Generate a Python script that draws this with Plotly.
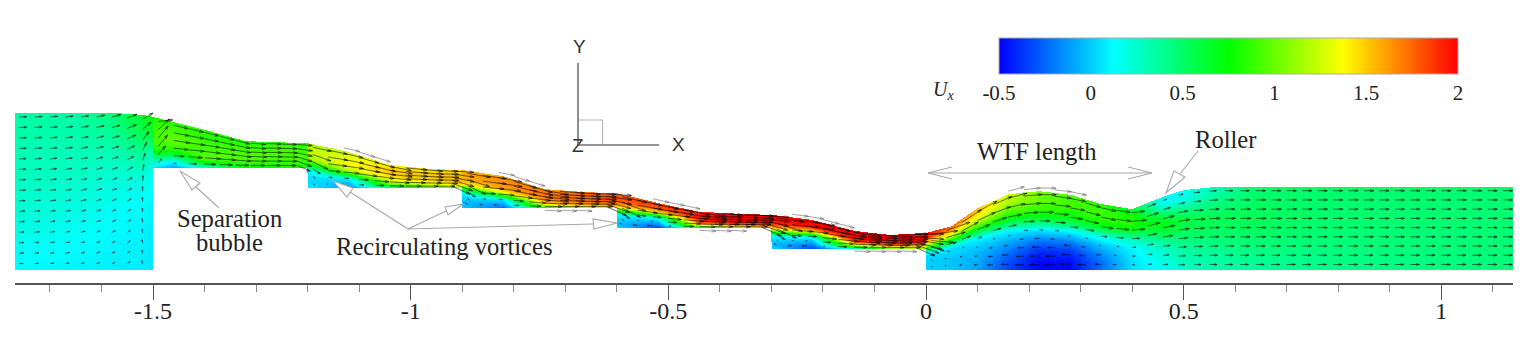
import numpy as np
import plotly.graph_objects as go

# --- values -----------------------------------------------------------------
E = 0.0005
stations = [-1.768, -1.65, -1.58, -1.52, -1.5 - E, -1.5 + E, -1.46, -1.4, -1.32, -1.2 - E,
            -1.2 + E, -1.12, -1.04, -0.96, -0.9 - E, -0.9 + E, -0.82, -0.74, -0.66, -0.6 - E,
            -0.6 + E, -0.52, -0.44, -0.36, -0.3 - E, -0.3 + E, -0.22, -0.14, -0.07, 0 - E,
            0 + E, 0.05, 0.1, 0.16, 0.22, 0.28, 0.34, 0.4, 0.46, 0.5, 0.56, 0.64, 0.8, 1.139]
surface = [.305, .305, .305, .301, .297, .297, .287, .272, .250, .246,
           .246, .229, .204, .196, .194, .194, .182, .157, .151, .149,
           .149, .130, .113, .109, .107, .107, .097, .076, .068, .072,
           .072, .085, .120, .147, .153, .146, .128, .118, .142, .155, .161, .161, .161, .161]
bed = [0, 0, 0, 0, 0, .198, .198, .198, .198, .198,
       .159, .159, .159, .159, .159, .120, .120, .120, .120, .120,
       .081, .081, .081, .081, .081, .041, .041, .041, .041, .041,
       0, 0, 0, 0, 0, 0, 0, 0, 0, 0, 0, 0, 0, 0]
# Ux at nine levels from the bed (first) to the free surface (last), one row per station
ux = [
    [.12, .15, .19, .23, .26, .29, .31, .33, .34],
    [.10, .12, .15, .19, .23, .27, .30, .33, .35],
    [.09, .10, .12, .15, .19, .24, .31, .38, .45],
    [.08, .09, .10, .12, .16, .24, .38, .55, .66],
    [.07, .07, .08, .09, .11, .16, .28, .62, .78],
    [.05, .30, .60, .85, .90, .90, .90, .85, .80],
    [-.10, .10, .50, .80, .95, 1.0, .95, .90, .85],
    [.20, .70, .95, .95, .90, .90, .85, .85, .85],
    [.70, .85, .90, .95, .95, .92, .90, .85, .85],
    [.75, .85, .90, .90, .92, .90, .90, .90, .85],
    [.10, .05, .05, .10, .60, 1.1, 1.2, 1.2, 1.15],
    [-.15, -.05, .10, .80, 1.25, 1.35, 1.35, 1.3, 1.25],
    [.30, .90, 1.2, 1.35, 1.45, 1.5, 1.5, 1.45, 1.4],
    [.90, 1.2, 1.35, 1.45, 1.5, 1.5, 1.5, 1.45, 1.4],
    [1.1, 1.35, 1.5, 1.55, 1.55, 1.55, 1.5, 1.5, 1.45],
    [.0, -.05, .0, .10, .70, 1.4, 1.55, 1.6, 1.55],
    [-.25, -.10, .05, .70, 1.4, 1.6, 1.65, 1.65, 1.6],
    [.60, 1.2, 1.5, 1.6, 1.7, 1.7, 1.7, 1.7, 1.6],
    [1.1, 1.45, 1.6, 1.7, 1.75, 1.75, 1.75, 1.75, 1.7],
    [1.3, 1.55, 1.7, 1.75, 1.8, 1.8, 1.8, 1.75, 1.7],
    [.05, -.05, .02, .10, .80, 1.5, 1.75, 1.8, 1.75],
    [-.35, -.20, -.05, .10, .70, 1.4, 1.75, 1.85, 1.8],
    [.30, 1.1, 1.6, 1.8, 1.9, 1.95, 1.95, 1.9, 1.85],
    [1.1, 1.5, 1.75, 1.9, 2.0, 2.0, 2.0, 2.0, 1.95],
    [1.3, 1.6, 1.8, 1.95, 2.0, 2.0, 2.0, 2.0, 2.0],
    [.05, -.05, .02, .15, .90, 1.6, 1.9, 2.0, 2.0],
    [-.35, -.20, -.05, .10, .80, 1.5, 1.95, 2.0, 1.95],
    [.20, .90, 1.4, 1.75, 1.95, 2.0, 2.0, 2.0, 2.0],
    [1.0, 1.4, 1.7, 1.9, 2.0, 2.0, 2.0, 2.0, 2.0],
    [1.1, 1.4, 1.65, 1.85, 2.0, 2.0, 2.0, 2.0, 2.0],
    [.02, .02, .02, .04, .30, 1.0, 1.5, 1.9, 2.0],
    [.0, -.02, -.02, .02, .05, .50, 1.1, 1.5, 1.8],
    [-.10, -.08, -.05, .0, .10, .60, 1.1, 1.4, 1.55],
    [-.34, -.30, -.20, -.08, .08, .55, .90, 1.15, 1.25],
    [-.50, -.48, -.38, -.20, .05, .55, .85, 1.0, 1.05],
    [-.50, -.46, -.36, -.18, .08, .55, .80, .90, .95],
    [-.24, -.22, -.14, -.02, .18, .60, .85, .90, .85],
    [.05, .05, .08, .12, .30, .65, .85, .80, .60],
    [.15, .20, .25, .35, .60, .72, .55, .20, .08],
    [.25, .30, .35, .45, .55, .60, .42, .20, .15],
    [.33, .35, .40, .47, .52, .55, .48, .38, .30],
    [.38, .40, .44, .48, .52, .53, .52, .50, .47],
    [.42, .43, .44, .46, .47, .48, .48, .48, .48],
    [.45, .45, .46, .46, .47, .47, .47, .47, .47],
]
level_fractions = [0, .125, .25, .375, .5, .625, .75, .875, 1]
# upward turn of the flow towards the first step (degrees)
lift_x = [-1.768, -1.65, -1.58, -1.52, -1.5]
lift_deg = [3, 14, 26, 55, 60]
# stretches where arrows stick out of the field, above the surface and below the bed
over_ranges = [(-1.14, -1.04), (-0.84, -0.74), (-0.54, -0.44), (-0.26, -0.14), (0.14, 0.3)]
under_ranges = [(-0.74, -0.66), (-0.44, -0.36), (-0.14, -0.04)]

axis_ticks = [-1.5, -1, -0.5, 0, 0.5, 1]
axis_labels = ["-1.5", "-1", "-0.5", "0", "0.5", "1"]
bar_ticks = [-0.5, 0, 0.5, 1, 1.5, 2]
bar_labels = ["-0.5", "0", "0.5", "1", "1.5", "2"]
colors = [[0, "#0000ff"], [.25, "#00ffff"], [.5, "#00ff00"], [.75, "#ffff00"], [1, "#ff0000"]]

# --- page geometry -----------------------------------------------------------
W, H = 1537, 354
SCALE = 515.3
X0_PX, Y0_PX = 926, 270
AX_PX = 283
xr = [(15 - X0_PX) / SCALE, (1513 - X0_PX) / SCALE]
yr = [(Y0_PX - AX_PX) / SCALE, Y0_PX / SCALE]
def dx(p): return (p - X0_PX) / SCALE
def dy(p): return (Y0_PX - p) / SCALE

st = np.array(stations); sf = np.array(surface); bd = np.array(bed); U = np.array(ux)
fr = np.array(level_fractions)

# the field table is shown on a raster of one screen pixel per cell
gx = np.arange(dx(15.5), dx(1513), 1 / SCALE)
gy = np.arange(dy(269.5), dy(112), 1 / SCALE)
field = np.full((len(gy), len(gx)), np.nan, dtype="f4")
for c, cx in enumerate(gx):
    i = min(max(np.searchsorted(st, cx), 1), len(st) - 1)
    t = (cx - st[i - 1]) / (st[i] - st[i - 1])
    b = (1 - t) * bd[i - 1] + t * bd[i]
    s = (1 - t) * sf[i - 1] + t * sf[i]
    inside = (gy >= b) & (gy <= s)
    f = (gy[inside] - b) / (s - b)
    field[inside, c] = (1 - t) * np.interp(f, fr, U[i - 1]) + t * np.interp(f, fr, U[i])

fig = go.Figure()
fig.add_trace(go.Heatmap(
    x=gx, y=gy, z=field, colorscale=colors, zmin=-0.5, zmax=2, hoverinfo="skip",
    colorbar=dict(
        orientation="h", xref="container", yref="container",
        x=999 / W, xanchor="left", y=1 - 38 / H, yanchor="top",
        lenmode="pixels", len=459, thickness=36, thicknessmode="pixels",
        xpad=0, ypad=0, outlinecolor="#aaaaaa", outlinewidth=1,
        tickmode="array", tickvals=bar_ticks, ticktext=bar_labels, ticks="",
        tickfont=dict(family="Liberation Serif", size=21, color="#222222"))))

# velocity arrows built from the table above
def arrow(store, cx, y, u, ang):
    L = 0.03 * abs(u) ** 0.8 + 0.002
    sgn = 1 if u >= 0 else -1
    ux_, uy_ = sgn * np.cos(ang), sgn * np.sin(ang)
    x1, y1 = cx + L * ux_, y + L * uy_
    h = min(0.008, L * 0.35)
    store[0].extend([cx, x1, None, x1 - h * ux_ + 0.3 * h * uy_, x1, x1 - h * ux_ - 0.3 * h * uy_, None])
    store[1].extend([y, y1, None, y1 - h * uy_ - 0.3 * h * ux_, y1, y1 - h * uy_ + 0.3 * h * ux_, None])

dark, gray = ([], []), ([], [])
for cx in np.arange(-1.76, 1.13, 0.03):
    s = np.interp(cx, st, sf)
    b = np.interp(cx, st, bd)
    depth_px = (s - b) * SCALE
    n = int(np.clip(round(depth_px / 9), 6, 15))
    i = min(max(np.searchsorted(st, cx), 1), len(st) - 1)
    t = (cx - st[i - 1]) / (st[i] - st[i - 1])
    for k in range(n):
        f = (k + 0.6) / n
        y = b + (s - b) * f
        u = (1 - t) * np.interp(f, fr, U[i - 1]) + t * np.interp(f, fr, U[i])
        level = bd + (sf - bd) * f
        slope = (np.interp(cx + .02, st, level) - np.interp(cx - .02, st, level)) / .04
        ang = np.arctan(float(np.clip(slope, -1.0, 1.2)))
        if cx < -1.5:
            ang += np.deg2rad(np.interp(cx, lift_x, lift_deg)) * (1 - 0.4 * f)
        arrow(dark, cx, y, u, ang)
    for lo, hi in over_ranges:
        if lo <= cx <= hi:
            sl = (np.interp(cx + .02, st, sf) - np.interp(cx - .02, st, sf)) / .04
            arrow(gray, cx, s + 0.006, 1.0, np.arctan(sl))
    for lo, hi in under_ranges:
        if lo <= cx <= hi:
            arrow(gray, cx, b - 0.004, 1.0, -0.05)
fig.add_trace(go.Scatter(x=dark[0], y=dark[1], mode="lines", hoverinfo="skip", showlegend=False,
                         line=dict(color="rgba(0,0,0,0.72)", width=0.8)))
fig.add_trace(go.Scatter(x=gray[0], y=gray[1], mode="lines", hoverinfo="skip", showlegend=False,
                         line=dict(color="rgba(110,110,110,0.8)", width=0.8)))

# decoration: coordinate triad and callouts
def seg(pts, color="#a8a8a8", width=1.1, fill=None):
    path = "M " + " L ".join(f"{dx(a):.5f},{dy(b):.5f}" for a, b in pts)
    if fill:
        path += " Z"
    fig.add_shape(type="path", path=path, xref="x", yref="y",
                  line=dict(color=color, width=width),
                  fillcolor=fill if fill else "rgba(0,0,0,0)", layer="above")

seg([(602.5, 145), (602.5, 120), (578, 120)], "#b5b5b5", 1.2)
seg([(578, 63), (578, 145)], "#707070", 1.6)
seg([(578, 145), (659, 145)], "#707070", 1.6)

seg([(196, 187), (219, 208)])
seg([(180, 171), (200, 183), (192, 190)], fill="#ffffff")
seg([(408, 229), (350, 192)])
seg([(333, 181), (353, 188), (347, 197)], fill="#ffffff")
seg([(408, 229), (446, 211)])
seg([(463, 204), (445, 207), (448, 215)], fill="#ffffff")
seg([(408, 229), (593, 224)])
seg([(617, 223), (593, 219), (594, 229)], fill="#ffffff")
seg([(928, 173), (1152, 173)])
seg([(952, 167), (928, 173), (952, 179)])
seg([(1128, 167), (1152, 173), (1128, 179)])
seg([(1198, 151), (1180, 174)])
seg([(1166, 193), (1174, 171), (1185, 177)], fill="#ffffff")

def note(px, py, text, size=24.6, family="Liberation Serif", color="#222222"):
    fig.add_annotation(x=dx(px), y=dy(py), xref="x", yref="y", text=text, showarrow=False,
                       font=dict(family=family, size=size, color=color),
                       xanchor="center", yanchor="middle")

note(229, 218, "Separation")
note(229, 242, "bubble")
note(444, 246, "Recirculating vortices")
note(1037, 151, "WTF length")
note(1225, 139, "Roller")
note(943, 90, "<i>U<sub>x</sub></i>", size=20)
note(579, 46, "Y", 19, "Liberation Sans", "#333333")
note(678, 144, "X", 19, "Liberation Sans", "#333333")
note(578, 145, "Z", 19, "Liberation Sans", "#333333")

fig.update_layout(
    width=W, height=H, margin=dict(l=0, r=0, t=0, b=0, autoexpand=False),
    paper_bgcolor="white", plot_bgcolor="white", showlegend=False,
    xaxis=dict(domain=[15 / W, 1513 / W], range=xr, showgrid=False, zeroline=False,
               showline=True, linecolor="#555555", linewidth=2,
               ticks="outside", ticklen=15, tickcolor="#555555", tickwidth=1,
               tickmode="array", tickvals=axis_ticks, ticktext=axis_labels,
               ticklabelstandoff=-10,
               tickfont=dict(family="Liberation Serif", size=24, color="#222222"),
               minor=dict(dtick=0.1, tick0=0, ticks="outside", ticklen=7,
                          tickcolor="#888888", tickwidth=1, showgrid=False),
               anchor="y"),
    yaxis=dict(domain=[(H - AX_PX) / H, 1], range=yr, visible=False),
)
fig.write_html("out.html", config=dict(displayModeBar=False),
               post_script="document.body.style.margin='0';")
